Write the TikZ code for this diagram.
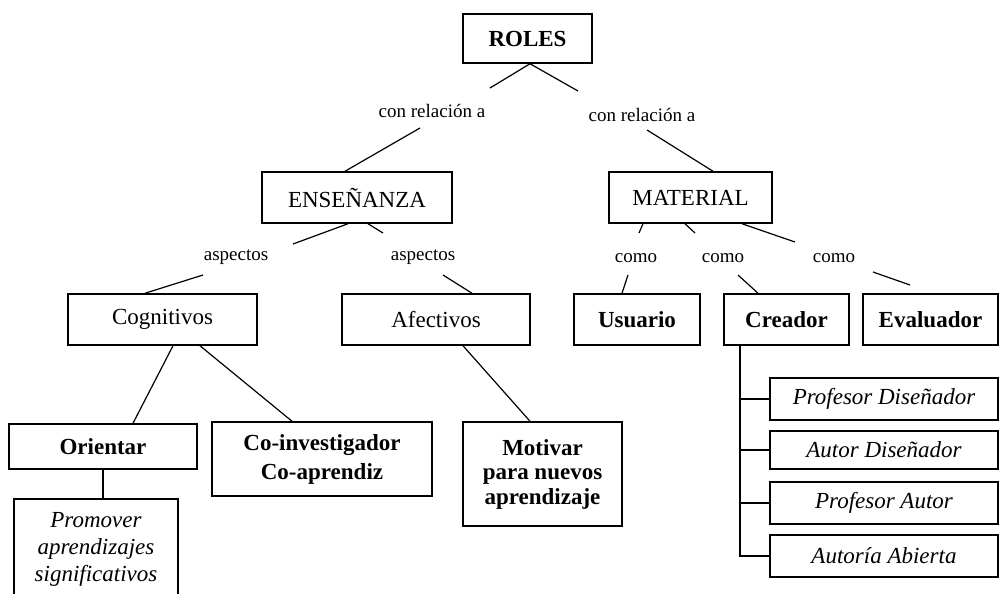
\documentclass[tikz,border=0pt]{standalone}
\usepackage{fontspec}
\setmainfont{Liberation Serif}
\begin{document}
\begin{tikzpicture}[x=1pt,y=-1pt,
  box/.style={draw, line width=1.5pt, inner sep=0pt, align=center, font=\fontsize{23}{27}\selectfont},
  lbl/.style={inner sep=0pt, font=\fontsize{19}{22}\selectfont},
  conn/.style={line width=1.2pt},
  tree/.style={line width=1.6pt}]
\path[use as bounding box, fill=white] (0,0) rectangle (999,594);
\clip (0,0) rectangle (999,594);
% top
\node[box, minimum width=129pt, minimum height=49pt] (roles) at (527.5,38.5) {\bfseries ROLES};
\node[lbl] (l1) at (432,111) {con relación a};
\node[lbl] (l2) at (642,115) {con relación a};
\node[box, minimum width=190pt, minimum height=51pt] (ens) at (357,197.5) {ENSEÑANZA};
\node[box, minimum width=163pt, minimum height=51pt] (mat) at (690.5,197.5) {MATERIAL};
% second level labels
\node[lbl] (a1) at (236,257) {aspectos};
\node[lbl] (a2) at (423,257) {aspectos};
\node[lbl] (c1) at (636,258) {como};
\node[lbl] (c2) at (723,258) {como};
\node[lbl] (c3) at (834,258) {como};
% third level
\node[box, minimum width=189pt, minimum height=51pt] (cog) at (162.5,319.5) {Cognitivos};
\node[box, minimum width=188pt, minimum height=51pt] (afe) at (436,319.5) {Afectivos};
\node[box, minimum width=126pt, minimum height=51pt] (usu) at (637,319.5) {\bfseries Usuario};
\node[box, minimum width=125pt, minimum height=51pt] (cre) at (786.5,319.5) {\bfseries Creador};
\node[box, minimum width=135pt, minimum height=51pt] (eva) at (930.5,319.5) {\bfseries Evaluador};
% fourth level
\node[box, minimum width=188pt, minimum height=45pt] (ori) at (103,446.5) {\bfseries Orientar};
\node[box, minimum width=220pt, minimum height=74pt, font=\fontsize{23}{28}\selectfont] (coi) at (322,459) {\raisebox{-4pt}{\begin{tabular}{@{}c@{}}\bfseries Co-investigador\\[1pt]\bfseries Co-aprendiz\end{tabular}}};
\node[box, minimum width=159pt, minimum height=104pt, font=\fontsize{23}{24.5}\selectfont] (mot) at (542.5,474) {\bfseries Motivar\\\bfseries para nuevos\\\bfseries aprendizaje};
\node[box, minimum width=164pt, minimum height=101pt, font=\fontsize{23}{27}\selectfont] (pro) at (96,549.5) {\itshape Promover\\\itshape aprendizajes\\\itshape significativos};
% creador list
\node[box, minimum width=228pt, minimum height=42pt] (p1) at (884,399) {\itshape Profesor Diseñador};
\node[box, minimum width=228pt, minimum height=38pt] (p2) at (884,450) {\itshape Autor Diseñador};
\node[box, minimum width=228pt, minimum height=42pt] (p3) at (884,503) {\itshape Profesor Autor};
\node[box, minimum width=228pt, minimum height=42pt] (p4) at (884,556) {\itshape Autoría Abierta};
% free line ends
\coordinate (e1) at (490,88);
\coordinate (e2) at (578,91);
\coordinate (e3) at (420,128);
\coordinate (e4) at (647,130);
\coordinate (e5) at (293,244);
\coordinate (e6) at (383,233);
\coordinate (e7) at (203,275);
\coordinate (e8) at (443,275);
\coordinate (e9) at (639,233);
\coordinate (e10) at (695,233);
\coordinate (e11) at (795,242);
\coordinate (e12) at (628,275);
\coordinate (e13) at (738,275);
\coordinate (e14) at (873,272);
\coordinate (e15) at (910,285);
% connectors
\draw[conn] ([xshift=2.5pt]roles.south) -- (e1);
\draw[conn] ([xshift=2.5pt]roles.south) -- (e2);
\draw[conn] (e3) -- ([xshift=-12pt]ens.north);
\draw[conn] (e4) -- ([xshift=22.5pt]mat.north);
\draw[conn] ([xshift=-9pt]ens.south) -- (e5);
\draw[conn] ([xshift=11pt]ens.south) -- (e6);
\draw[conn] (e7) -- ([xshift=-17.5pt]cog.north);
\draw[conn] (e8) -- ([xshift=36pt]afe.north);
\draw[conn] ([xshift=-47.5pt]mat.south) -- (e9);
\draw[conn] ([xshift=-5.5pt]mat.south) -- (e10);
\draw[conn] ([xshift=51.5pt]mat.south) -- (e11);
\draw[conn] (e12) -- ([xshift=-15pt]usu.north);
\draw[conn] (e13) -- ([xshift=-28.5pt]cre.north);
\draw[conn] (e14) -- (e15);
\draw[conn] ([xshift=10.5pt]cog.south) -- ([xshift=30pt]ori.north);
\draw[conn] ([xshift=37.5pt]cog.south) -- ([xshift=-30pt]coi.north);
\draw[conn] ([xshift=27pt]afe.south) -- ([xshift=-12.5pt]mot.north);
\draw[tree] (ori.south) -- (ori.south |- pro.north);
% creador tree
\coordinate (tr) at ([xshift=-46.5pt]cre.south);
\draw[tree] (tr) |- (p4.west);
\draw[tree] (tr |- p1.west) -- (p1.west);
\draw[tree] (tr |- p2.west) -- (p2.west);
\draw[tree] (tr |- p3.west) -- (p3.west);
\end{tikzpicture}
\end{document}
